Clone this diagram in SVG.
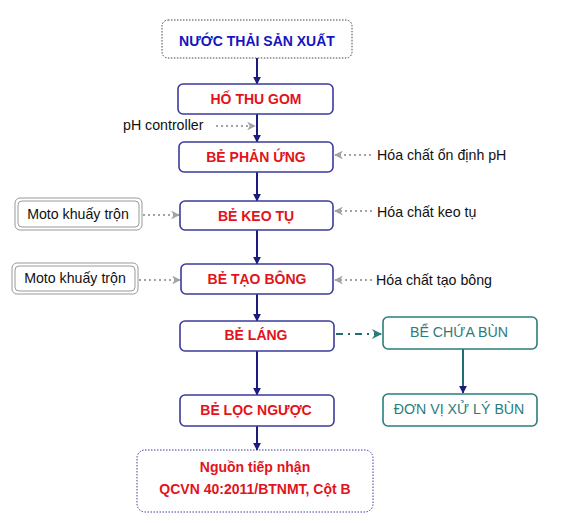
<svg xmlns="http://www.w3.org/2000/svg" width="577" height="523" viewBox="0 0 577 523">
<style>
.box{fill:#fff;stroke:#3b3b9c;stroke-width:1.6}
.lbl{font-family:"Liberation Sans",Arial,sans-serif;font-size:14px;font-weight:bold;fill:#e3131b;text-anchor:middle}
.side{font-family:"Liberation Sans",Arial,sans-serif;font-size:14.2px;fill:#111}
.teal{fill:#fff;stroke:#2b7d7d;stroke-width:1.6}
.tlbl{font-family:"Liberation Sans",Arial,sans-serif;font-size:14.2px;fill:#2b7d7d;text-anchor:middle}
.flow{stroke:#1c1c80;stroke-width:2;fill:none}
.dot{stroke:#a3a3a3;stroke-width:2.2;stroke-dasharray:2 3;fill:none}
.moto{fill:#fff;stroke:#9a9a9a;stroke-width:1}
</style>
<defs>
<marker id="ah" viewBox="0 0 10 10" refX="9" refY="5" markerWidth="4" markerHeight="5" orient="auto" markerUnits="strokeWidth">
<path d="M0,0 L10,5 L0,10 z" fill="#1c1c80"/>
</marker>
<marker id="gh" viewBox="0 0 10 10" refX="9" refY="5" markerWidth="5" markerHeight="4" orient="auto" markerUnits="strokeWidth">
<path d="M0,0 L10,5 L0,10 L3,5 z" fill="#a3a3a3"/>
</marker>
<marker id="th" viewBox="0 0 10 10" refX="9" refY="5" markerWidth="5" markerHeight="5" orient="auto" markerUnits="strokeWidth">
<path d="M0,0 L10,5 L0,10 L3,5 z" fill="#2b7d7d"/>
</marker>
</defs>

<g id="connectors">
<line class="flow" x1="257" y1="58" x2="257" y2="84" marker-end="url(#ah)"/>
<line class="flow" x1="257" y1="114" x2="257" y2="142" marker-end="url(#ah)"/>
<line class="flow" x1="257" y1="172" x2="257" y2="201" marker-end="url(#ah)"/>
<line class="flow" x1="257" y1="230" x2="257" y2="264" marker-end="url(#ah)"/>
<line class="flow" x1="257" y1="294" x2="257" y2="321" marker-end="url(#ah)"/>
<line class="flow" x1="257" y1="351" x2="257" y2="395" marker-end="url(#ah)"/>
<line class="flow" x1="257" y1="426" x2="257" y2="450" marker-end="url(#ah)"/>
<line class="flow" style="stroke:#1f6f6f" x1="463" y1="349" x2="463" y2="393" marker-end="url(#ah)"/>
<line x1="336" y1="334" x2="381" y2="334" stroke="#1f6f6f" stroke-width="2" stroke-dasharray="7 5 2 5" marker-end="url(#th)"/>
<line class="dot" x1="216" y1="126" x2="255" y2="126" marker-end="url(#gh)"/>
<line class="dot" x1="371" y1="155" x2="335" y2="155" marker-end="url(#gh)"/>
<line class="dot" x1="143" y1="215" x2="179" y2="215" marker-end="url(#gh)"/>
<line class="dot" x1="372" y1="211" x2="335" y2="211" marker-end="url(#gh)"/>
<line class="dot" x1="139" y1="280" x2="180" y2="280" marker-end="url(#gh)"/>
<line class="dot" x1="372" y1="280" x2="335" y2="280" marker-end="url(#gh)"/>
</g>

<g id="n-nuocthai">
<rect x="162" y="20" width="190" height="38" rx="6" fill="#fff" stroke="#444" stroke-width="1" stroke-dasharray="1.5 1.5"/>
<text class="lbl" x="257" y="46" style="fill:#1515c0">NƯỚC THẢI SẢN XUẤT</text>
</g>
<g id="n-hothugom">
<rect class="box" x="178" y="84" width="155" height="30" rx="5"/>
<text class="lbl" x="256" y="104">HỐ THU GOM</text>
</g>
<g id="n-phcontroller">
<text class="side" x="123" y="130">pH controller</text>
</g>
<g id="n-phanung">
<rect class="box" x="179" y="142" width="154" height="30" rx="5"/>
<text class="lbl" x="256" y="162">BẺ PHẢN ỨNG</text>
</g>
<g id="n-hc-ph">
<text class="side" x="377" y="160">Hóa chất ổn định pH</text>
</g>
<g id="n-keotu">
<rect class="box" x="180" y="201" width="153" height="29" rx="5"/>
<text class="lbl" x="256" y="221">BẺ KEO TỤ</text>
</g>
<g id="n-moto1">
<rect class="moto" x="15" y="198" width="127" height="32" rx="5"/>
<rect class="moto" x="18" y="201" width="121" height="26" rx="4"/>
<text class="side" x="78" y="219" text-anchor="middle">Moto khuấy trộn</text>
</g>
<g id="n-hc-keotu">
<text class="side" x="377" y="217">Hóa chất keo tụ</text>
</g>
<g id="n-taobong">
<rect class="box" x="181" y="264" width="152" height="30" rx="5"/>
<text class="lbl" x="257" y="284">BẺ TẠO BÔNG</text>
</g>
<g id="n-moto2">
<rect class="moto" x="12" y="263" width="126" height="31" rx="5"/>
<rect class="moto" x="15" y="266" width="120" height="25" rx="4"/>
<text class="side" x="75" y="283" text-anchor="middle">Moto khuấy trộn</text>
</g>
<g id="n-hc-taobong">
<text class="side" x="376" y="285">Hóa chất tạo bông</text>
</g>
<g id="n-lang">
<rect class="box" x="180" y="321" width="154" height="30" rx="5"/>
<text class="lbl" x="256" y="340">BẺ LÁNG</text>
</g>
<g id="n-chuabun">
<rect class="teal" x="383" y="317" width="154" height="32" rx="5"/>
<text class="tlbl" x="459" y="337">BỂ CHỨA BÙN</text>
</g>
<g id="n-xulybun">
<rect class="teal" x="383" y="394" width="154" height="32" rx="5"/>
<text class="tlbl" x="459" y="414">ĐƠN VỊ XỬ LÝ BÙN</text>
</g>
<g id="n-locnguoc">
<rect class="box" x="180" y="395" width="154" height="31" rx="5"/>
<text class="lbl" x="256" y="415">BẺ LỌC NGƯỢC</text>
</g>
<g id="n-nguon">
<rect x="137" y="450" width="236" height="62" rx="8" fill="#fff" stroke="#3b3b9c" stroke-width="1" stroke-dasharray="1.5 1.5"/>
<text class="lbl" x="255" y="472">Nguồn tiếp nhận</text>
<text class="lbl" x="255" y="494">QCVN 40:2011/BTNMT, Cột B</text>
</g>
</svg>
